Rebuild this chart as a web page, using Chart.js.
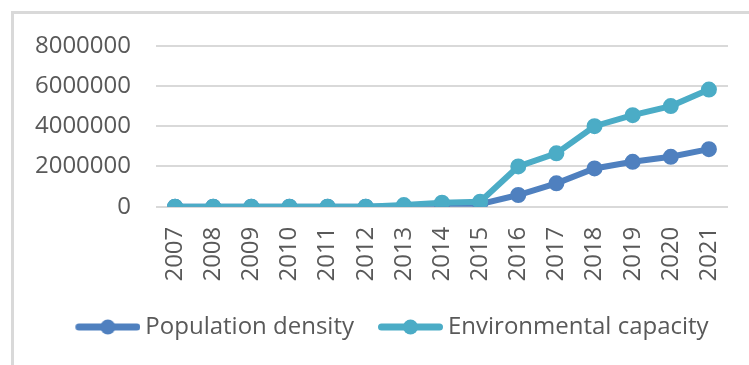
<!DOCTYPE html>
<html>
<head>
<meta charset="utf-8">
<script src="https://cdn.jsdelivr.net/npm/chart.js@4.4.1/dist/chart.umd.min.js"></script>
<style>
  html, body { margin: 0; padding: 0; background: #fff; }
  #marco {
    position: absolute; left: 11px; top: 11px;
    width: 735px; height: 351px;
    border-left: 3px solid #d9d9d9;
    border-top: 3px solid #d9d9d9;
  }
  canvas { display: block; }
</style>
</head>
<body>
<div id="marco"><canvas id="grafico" width="735" height="351"></canvas></div>
<script>
// Datos del gráfico
const anios = ['2007', '2008', '2009', '2010', '2011', '2012', '2013', '2014',
               '2015', '2016', '2017', '2018', '2019', '2020', '2021'];
const densidadPoblacion = [0, 0, 0, 0, 0, 0, 20000, 50000, 130000,
                           580000, 1160000, 1900000, 2230000, 2480000, 2860000];
const capacidadAmbiental = [0, 0, 0, 0, 0, 0, 80000, 200000, 250000,
                            2000000, 2650000, 4000000, 4550000, 5000000, 5820000];
const ticksY = [0, 2000000, 4000000, 6000000, 8000000];

const azul = '#4f80bf';
const turquesa = '#4bacc6';
const gris = '#595959';
const fuente = "'Open Sans', sans-serif";

// Icono de leyenda: línea con círculo (margen transparente a la izquierda)
const anchoCaja = 80;
function iconoLeyenda(color) {
    const c = document.createElement('canvas');
    c.width = anchoCaja + 14;
    c.height = 18;
    const g = c.getContext('2d');
    const x0 = c.width - 65;
    g.strokeStyle = color;
    g.lineWidth = 7;
    g.lineCap = 'round';
    g.beginPath();
    g.moveTo(x0 + 3.5, 9);
    g.lineTo(c.width - 3.5, 9);
    g.stroke();
    g.fillStyle = color;
    g.beginPath();
    g.arc(x0 + 32.5, 9, 7.5, 0, Math.PI * 2);
    g.fill();
    return c;
}
const iconos = [iconoLeyenda(azul), iconoLeyenda(turquesa)];

const ctx = document.getElementById('grafico').getContext('2d');
new Chart(ctx, {
    type: 'line',
    data: {
        labels: anios,
        datasets: [{
            label: 'Population density',
            data: densidadPoblacion,
            borderColor: azul,
            backgroundColor: azul,
            borderWidth: 6,
            pointRadius: 7,
            pointBorderWidth: 2,
            pointBackgroundColor: azul,
            pointBorderColor: azul,
            order: 1
        }, {
            label: 'Environmental capacity',
            data: capacidadAmbiental,
            borderColor: turquesa,
            backgroundColor: turquesa,
            borderWidth: 6,
            pointRadius: 7,
            pointBorderWidth: 2,
            pointBackgroundColor: turquesa,
            pointBorderColor: turquesa,
            order: 0
        }]
    },
    options: {
        responsive: false,
        animation: false,
        layout: { padding: { left: 20, right: 21, top: 31.7, bottom: 16 } },
        plugins: {
            tooltip: { enabled: false },
            legend: {
                position: 'bottom',
                labels: {
                    usePointStyle: true,
                    pointStyleWidth: anchoCaja,
                    boxHeight: 18,
                    padding: 2,
                    color: gris,
                    font: { family: fuente, size: 24 },
                    sort: (a, b) => a.datasetIndex - b.datasetIndex,
                    generateLabels: (chart) => {
                        const items = Chart.defaults.plugins.legend.labels.generateLabels(chart);
                        items.forEach(it => { it.pointStyle = iconos[it.datasetIndex]; });
                        return items;
                    }
                }
            }
        },
        scales: {
            x: {
                offset: true,
                grid: { display: false, drawTicks: false },
                border: { display: false },
                ticks: {
                    minRotation: 90, maxRotation: 90, autoSkip: false,
                    padding: 20, color: gris,
                    font: { family: fuente, size: 24 }
                },
                afterFit: (eje) => {
                    eje.height = 106.3;
                    eje.paddingLeft = 0;
                    eje.paddingRight = 0;
                }
            },
            y: {
                min: 0, max: 8000000,
                afterBuildTicks: (eje) => { eje.ticks = ticksY.map(v => ({ value: v })); },
                grid: { color: '#d9d9d9', lineWidth: 2, drawTicks: false },
                border: { display: false },
                ticks: {
                    padding: 25, color: gris,
                    font: { family: fuente, size: 24 },
                    callback: (v) => String(v)
                },
                afterFit: (eje) => {
                    eje.width = 122;
                    eje.paddingTop = 0;
                    eje.paddingBottom = 0;
                }
            }
        }
    }
});
</script>
</body>
</html>
